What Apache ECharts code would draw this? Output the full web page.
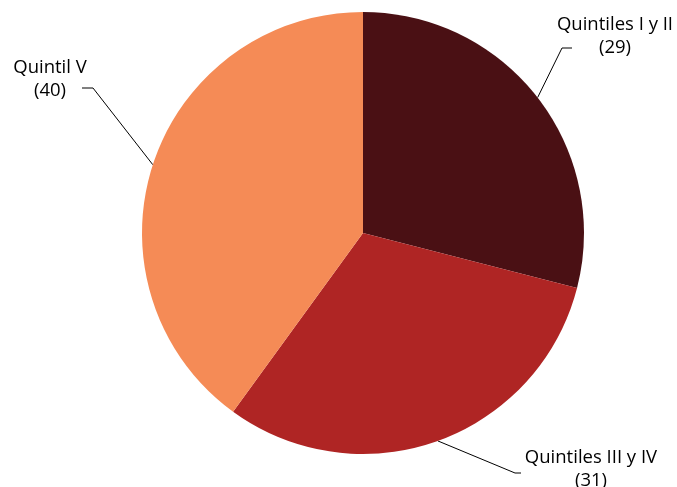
<!DOCTYPE html>
<html>
<head>
<meta charset="utf-8">
<script src="https://cdn.jsdelivr.net/npm/echarts@6/dist/echarts.min.js"></script>
<style>
  html, body { margin: 0; padding: 0; background: #fff; }
  #chart { width: 677px; height: 487px; }
</style>
</head>
<body>
<div id="chart"></div>
<script>
// Shares by income quintile
const categories = ['Quintiles I y II', 'Quintiles III y IV', 'Quintil V'];
const values = [29, 31, 40];
const colors = ['#4A1014', '#AF2524', '#F58B56'];

// Label boxes (centre x, top y) and the elbow of each leader line
const labelPos = [
  { x: 615, y: 13, elbow: [562, 48], end: [572, 48] },
  { x: 591, y: 446, elbow: [515, 473], end: [521, 473] },
  { x: 50, y: 56, elbow: [93, 88], end: [82, 88] }
];

const chart = echarts.init(document.getElementById('chart'));
chart.setOption({
  animation: false,
  backgroundColor: '#fff',
  series: [{
    type: 'pie',
    center: [363, 233],
    radius: 221,
    startAngle: 90,
    clockwise: true,
    avoidLabelOverlap: false,
    data: categories.map((c, i) => ({
      name: c,
      value: values[i],
      itemStyle: { color: colors[i] }
    })),
    label: {
      show: true,
      position: 'outside',
      formatter: '{b}\n({c})',
      fontFamily: 'Open Sans',
      fontSize: 18.5,
      lineHeight: 23,
      color: '#000',
      align: 'center'
    },
    labelLine: {
      show: true,
      length: 20,
      length2: 10,
      lineStyle: { color: '#000', width: 1 }
    },
    labelLayout: function (params) {
      const p = labelPos[params.dataIndex];
      const start = params.labelLinePoints ? params.labelLinePoints[0] : p.elbow;
      return {
        x: p.x,
        y: p.y,
        align: 'center',
        verticalAlign: 'top',
        labelLinePoints: [start, p.elbow, p.end]
      };
    }
  }]
});
</script>
</body>
</html>
